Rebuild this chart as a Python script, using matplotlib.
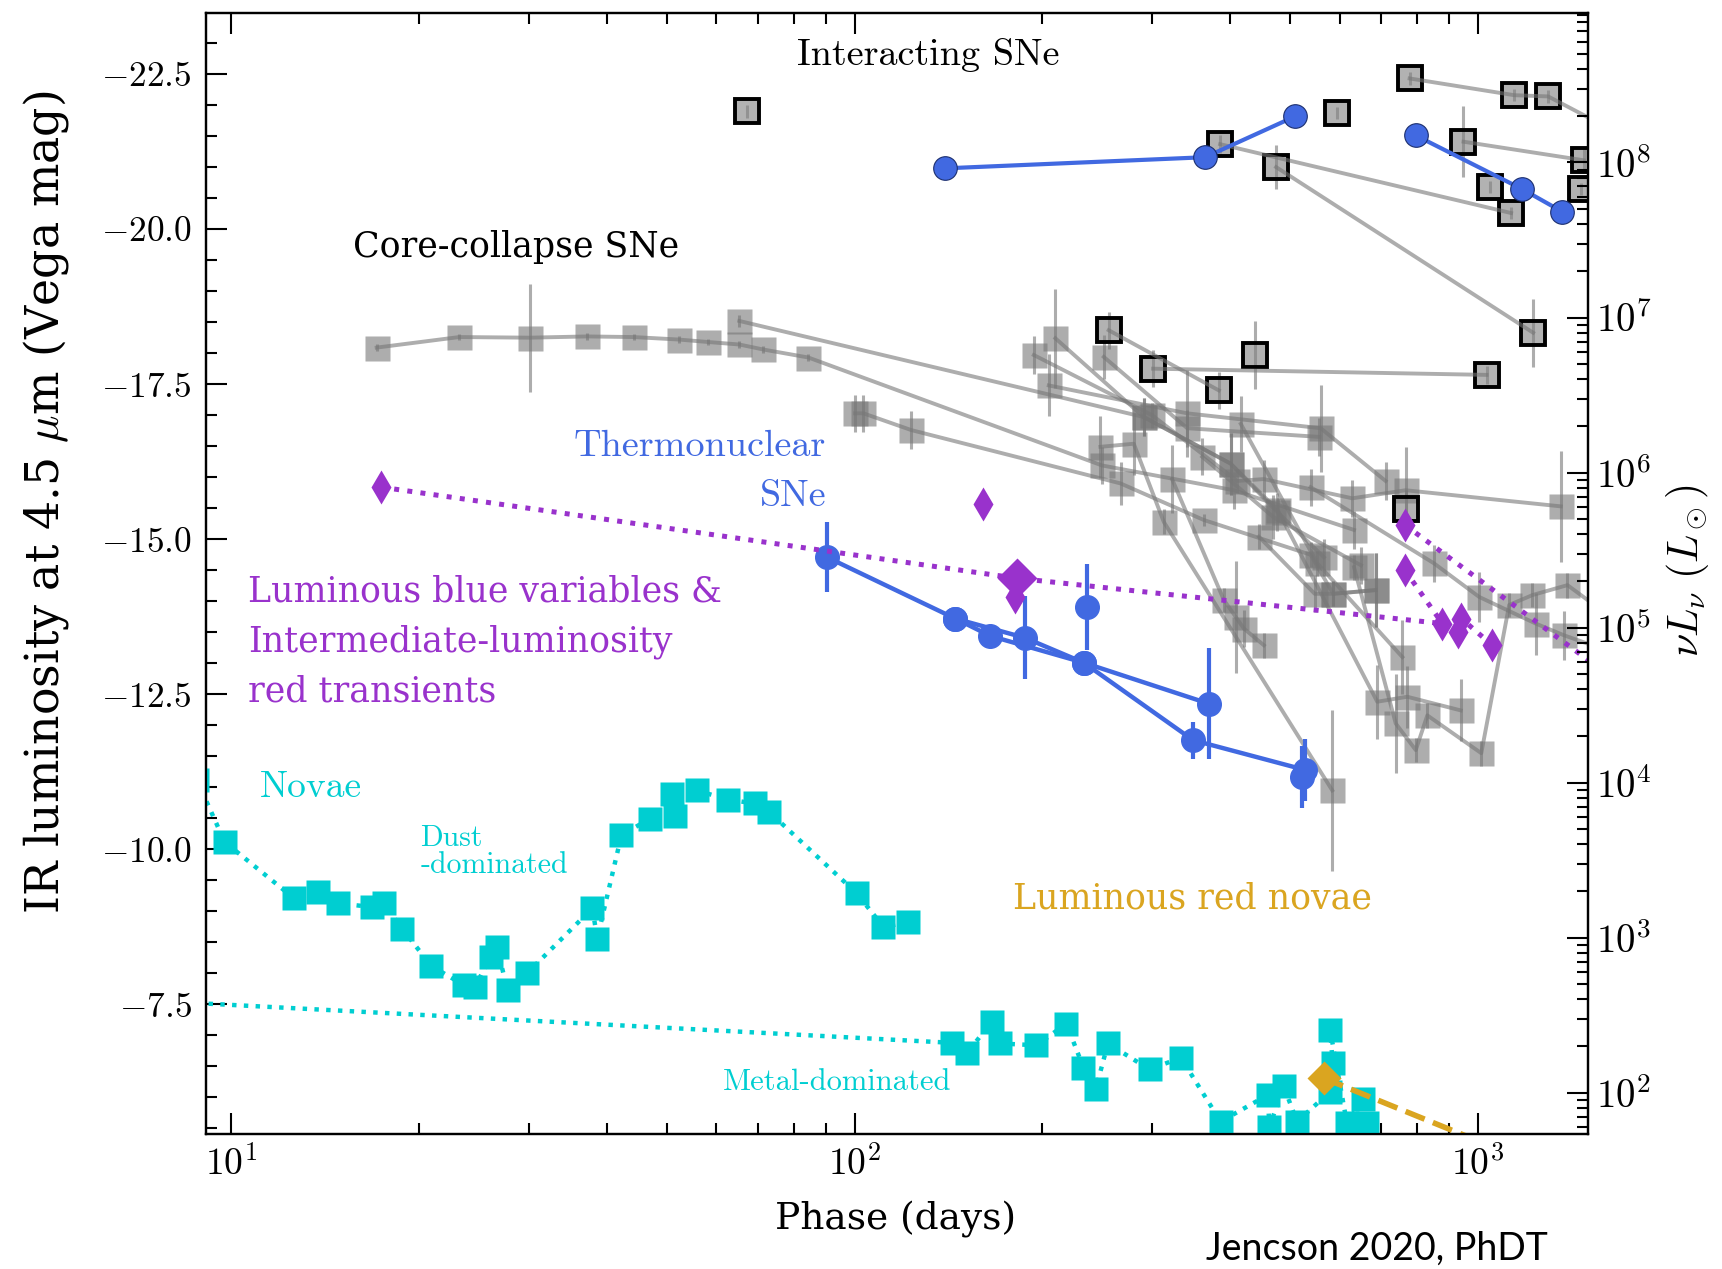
"""
plot.py - IR luminosity at 4.5 um vs phase for several transient classes
"""

import numpy as np
import matplotlib
matplotlib.use("Agg")
import matplotlib.pyplot as plt
from matplotlib.ticker import FixedLocator, FuncFormatter, NullFormatter, LogLocator

plt.rcParams.update({
    "font.family":        "serif",
    "font.serif":         ["cmr10"],
    "mathtext.fontset":   "cm",
    "axes.formatter.use_mathtext": True,
    "axes.linewidth":     1.6,
    "xtick.direction":    "in",
    "ytick.direction":    "in",
})

GREY    = "#777777"
BLUE    = "#4169E1"
PURPLE  = "#9932CC"
CYAN    = "#00CED1"
GOLD    = "#DAA520"
PALA    = "DejaVu Serif"

# ---------------- data (phase in days, Vega mag at 4.5 um, error) ----------------
# core-collapse SNe
cc_a = ([17.1, 23.2, 30.1, 37.2, 44.2, 52.2, 58.2, 65.3, 71.3, 84.3, 249.4, 406.0, 633.0],
        [-18.09, -18.26, -18.25, -18.27, -18.26, -18.22, -18.18, -18.14, -18.06, -17.93, -16.19, -15.79, -15.15],
        [0.05, 0.05, 0.87, 0.05, 0.05, 0.05, 0.05, 0.05, 0.05, 0.05, 0.3, 0.3, 0.3])
cc_b = ([65.3, 291.1, 401.1, 476.6, 566.4],
        [-18.52, -16.97, -16.22, -15.44, -14.71],
        [0.1, 0.3, 0.5, 0.3, 0.3])
cc_c = ([100.2, 103.3, 123.3, 267.1, 363.4, 539.2, 586.0, 685.6],
        [-17.03, -17.03, -16.76, -15.90, -15.31, -14.75, -14.12, -14.18],
        [0.3, 0.3, 0.3, 0.35, 0.1, 0.2, 0.2, 0.6])
cc_d = ([193.9, 300.2, 411.1, 453.7, 628.9, 766.0, 1359],
        [-17.97, -17.00, -15.94, -15.97, -15.66, -15.79, -15.53],
        [0.3, 0.2, 0.2, 0.3, 0.3, 0.7, 0.9])
cc_e = ([210.0, 291.1, 401.1, 477.5, 689.7, 770.7, 939.0],
        [-18.24, -16.97, -16.22, -15.47, -12.38, -12.46, -12.24],
        [0.8, 0.3, 0.5, 0.2, 0.6, 0.5, 0.5])
cc_f = ([204.9, 341.8, 559.6, 711.3],
        [-17.48, -17.03, -16.79, -15.94],
        [0.5, 0.7, 0.7, 0.3])
cc_g = ([251.1, 341.8, 556.9],
        [-17.94, -16.79, -16.65],
        [0.35, 0.3, 0.3])
cc_h = ([248.0, 280.5, 313.4, 584.1],
        [-16.49, -16.54, -15.28, -10.95],
        [0.5, 0.5, 0.2, 1.3])
cc_i = ([323.2, 391.3, 408.7, 421.3, 453.7],
        [-15.97, -14.02, -13.75, -13.56, -13.29],
        [0.55, 0.2, 0.9, 0.3, 0.2])
cc_j = ([633.0, 738.4, 795.2, 829.9, 1013, 1123, 1224, 1393, 1662],
        [-14.55, -12.03, -11.60, -12.16, -11.55, -13.94, -14.10, -14.26, -13.69],
        [0.2, 0.8, 0.2, 0.2, 0.2, 0.2, 0.2, 0.2, 0.2])
cc_k = ([539.2, 851.0, 1005, 1239, 1376, 1662],
        [-15.84, -14.61, -14.07, -13.64, -13.45, -13.16],
        [0.3, 0.3, 0.4, 0.5, 0.4, 0.2])
cc_l = ([416.6, 552.8, 756.8],
        [-16.86, -14.61, -13.10],
        [0.45, 0.2, 0.6])
cc_m = ([445.4, 547.4, 586.0, 685.6],
        [-15.04, -14.12, -14.12, -14.18],
        [0.2, 0.3, 0.2, 0.6])
cc_n = ([361.2, 469.5, 649.4],
        [-16.33, -15.36, -14.58],
        [0.3, 0.35, 0.3])
CC_TRACKS = [cc_a, cc_b, cc_c, cc_d, cc_e, cc_f, cc_g, cc_h, cc_i, cc_j, cc_k, cc_l, cc_m, cc_n]

# interacting SNe (black-edged squares)
int_a = ([386.0, 1131], [-21.37, -20.26], [0.15, 0.1])
int_b = ([474.7, 1227], [-21.00, -18.33], [0.36, 0.55])
int_c = ([777.4, 1144, 1297, 1730], [-22.43, -22.16, -22.14, -21.48], [0.1, 0.1, 0.1, 0.1])
int_d = ([948.6, 1480], [-21.41, -21.11], [0.57, 0.2])
int_e = ([255.7, 384.1], [-18.37, -17.40], [0.3, 0.3])
int_f = ([301.3, 1033], [-17.75, -17.65], [0.3, 0.15])
INT_TRACKS = [int_a, int_b, int_c, int_d, int_e, int_f]
int_single_days = [67.2, 593.6, 1044.5, 1463, 438.4, 766.0]
int_single_mag  = [-21.90, -21.87, -20.68, -20.65, -17.97, -15.49]
int_single_err  = [0.1, 0.1, 0.1, 0.1, 0.55, 0.3]

# interacting thermonuclear (blue circles, top)
iacsm_a_days = [139.5, 365.3, 509.6]
iacsm_a_mag  = [-20.98, -21.16, -21.82]
iacsm_b_days = [795.4, 1176, 1367]
iacsm_b_mag  = [-21.51, -20.65, -20.28]

# thermonuclear SNe
ia_a_days = [90.3, 145.1, 187.7, 233.1, 369.8]
ia_a_mag  = [-14.71, -13.72, -13.41, -13.01, -12.35]
ia_a_err  = [0.56, 0.1, 0.67, 0.1, 0.9]
ia_b_days = [145.1, 165.2, 233.1, 349.3, 528.2]
ia_b_mag  = [-13.72, -13.44, -13.01, -11.76, -11.28]
ia_b_err  = [0.1, 0.1, 0.1, 0.3, 0.5]
ia_single_days = [236.4, 522.2]
ia_single_mag  = [-13.91, -11.17]
ia_single_err  = [0.69, 0.5]

# LBVs & ILRTs
lbv_a_days = [17.38, 182.4, 877.3]
lbv_a_mag  = [-15.84, -14.37, -13.64]
lbv_b_days = [764, 1662]
lbv_b_mag  = [-15.23, -12.73]
lbv_c_days = [764, 877.3, 931.1, 941.3, 1055]
lbv_c_mag  = [-14.50, -13.64, -13.51, -13.72, -13.29]
lbv_pts_days = [17.38, 160.4, 180.7, 764, 764, 877.3, 931.1, 941.3, 1055]
lbv_pts_mag  = [-15.84, -15.57, -14.07, -15.23, -14.50, -13.64, -13.51, -13.72, -13.29]
lbv_big_days = [182.4]
lbv_big_mag  = [-14.37]

# luminous red novae
lrn_days = [566, 908.9, 1000]
lrn_mag  = [-6.31, -5.47, -5.30]

# novae
dust_days = [8.8, 9.75, 12.60, 13.78, 14.80, 16.79, 17.56, 18.79, 20.92, 23.60, 24.59, 26.05,
             26.66, 27.73, 29.79, 37.95, 38.63, 42.25, 46.88, 51.0, 51.45, 55.79, 62.68, 69.17,
             72.99, 100.8, 111.2, 121.7]
dust_mag  = [-11.12, -10.12, -9.21, -9.31, -9.13, -9.07, -9.13, -8.72, -8.12, -7.81, -7.78, -8.27,
             -8.43, -7.73, -8.00, -9.05, -8.56, -10.23, -10.49, -10.90, -10.53, -10.95, -10.80, -10.74,
             -10.60, -9.29, -8.75, -8.82]
metal_days = [5.0, 143.2, 151.6, 166.0, 170.8, 195.8, 218.7, 232.9, 243.8, 255.0, 297.3, 333.8,
              386.7, 460.4, 462.9, 488.0, 512.8, 579.4, 585.0, 579.4, 616.8, 653.5, 664.4]
metal_mag  = [-7.65, -6.88, -6.72, -7.22, -6.87, -6.84, -7.19, -6.48, -6.14, -6.87, -6.45, -6.64,
              -5.61, -6.04, -5.52, -6.18, -5.61, -6.09, -6.56, -7.09, -5.58, -5.98, -5.58]

XLIM = (9.1, 1500)
YLIM = (-5.41, -23.48)


def mag_to_lsun(m):
    return 10 ** (-0.43 - 0.4 * np.asarray(m))


def power_label(v, pos):
    return f"$10^{{{int(round(np.log10(v)))}}}$"


fig = plt.figure(figsize=(17.22, 12.69), dpi=100)
ax = fig.add_axes([0.1196, 0.1064, 0.8023, 0.8831])

# core-collapse
for days, mag, err in CC_TRACKS:
    ax.errorbar(days, mag, yerr=err, fmt="s-", color=GREY, alpha=0.6, ms=18, mec="none",
                lw=2.8, elinewidth=2.2, zorder=2)

# interacting
for days, mag, err in INT_TRACKS:
    ax.errorbar(days, mag, yerr=err, fmt="-", color=GREY, alpha=0.6, lw=2.8,
                elinewidth=2.2, zorder=3)
    ax.plot(days, mag, "s", ms=17, mfc=(0.5, 0.5, 0.5, 0.6), mec="k", mew=2.8, zorder=3)
ax.errorbar(int_single_days, int_single_mag, yerr=int_single_err, fmt="none", ecolor=GREY,
            alpha=0.6, elinewidth=2.2, zorder=3)
ax.plot(int_single_days, int_single_mag, "s", ms=17, mfc=(0.5, 0.5, 0.5, 0.6), mec="k",
        mew=2.8, zorder=3)

for days, mag in [(iacsm_a_days, iacsm_a_mag), (iacsm_b_days, iacsm_b_mag)]:
    ax.plot(days, mag, "o-", color=BLUE, ms=17, mec="#1c2f6e", mew=0.8, lw=3, zorder=4)

# thermonuclear
for days, mag, err in [(ia_a_days, ia_a_mag, ia_a_err), (ia_b_days, ia_b_mag, ia_b_err)]:
    ax.errorbar(days, mag, yerr=err, fmt="o-", color=BLUE, ms=17, lw=3.2, elinewidth=3, zorder=4)
ax.errorbar(ia_single_days, ia_single_mag, yerr=ia_single_err, fmt="o", color=BLUE, ms=17,
            elinewidth=3, zorder=4)

# LBVs / ILRTs
for days, mag in [(lbv_a_days, lbv_a_mag), (lbv_b_days, lbv_b_mag), (lbv_c_days, lbv_c_mag)]:
    ax.plot(days, mag, ":", color=PURPLE, lw=3.6, zorder=5)
ax.plot(lbv_pts_days, lbv_pts_mag, "d", color=PURPLE, ms=17, mec="none", zorder=5)
ax.plot(lbv_big_days, lbv_big_mag, "D", color=PURPLE, ms=20, mec="none", zorder=5)

# novae
ax.plot(dust_days, dust_mag, "s:", color=CYAN, ms=17.5, mec="none", lw=3.2, zorder=3)
ax.plot(metal_days, metal_mag, "s:", color=CYAN, ms=17.5, mec="none", lw=3.2, zorder=3)

# luminous red novae
ax.plot(lrn_days, lrn_mag, "--", color=GOLD, lw=4, zorder=5)
ax.plot(lrn_days[:1], lrn_mag[:1], "D", color=GOLD, ms=17, mec="none", zorder=6)

# axes
ax.set_xscale("log")
ax.set_xlim(*XLIM)
ax.set_ylim(*YLIM)
ax.xaxis.set_major_locator(FixedLocator([10, 100, 1000]))
ax.xaxis.set_major_formatter(FuncFormatter(power_label))
ax.xaxis.set_minor_locator(FixedLocator([k * 10.0 ** n for n in range(0, 4) for k in range(2, 10)]))
ax.xaxis.set_minor_formatter(NullFormatter())
ax.yaxis.set_major_locator(FixedLocator([-22.5, -20, -17.5, -15, -12.5, -10, -7.5]))
ax.yaxis.set_major_formatter(FuncFormatter(lambda v, p: f"${v:.1f}$"))
ax.yaxis.set_minor_locator(FixedLocator(np.arange(-23.5, -5.0, 0.5)))
ax.tick_params(which="both", top=True, right=False, direction="in", width=1.5)
ax.tick_params(which="major", length=15)
ax.tick_params(which="minor", length=8)
ax.tick_params(axis="x", which="major", labelsize=27, pad=8)
ax.tick_params(axis="y", which="major", labelsize=25.5, pad=10)

ax2 = ax.twinx()
ax2.set_yscale("log")
ax2.set_ylim(mag_to_lsun(YLIM[0]), mag_to_lsun(YLIM[1]))
ax2.yaxis.set_major_locator(FixedLocator([10.0 ** n for n in range(2, 9)]))
ax2.yaxis.set_major_formatter(FuncFormatter(power_label))
ax2.yaxis.set_minor_locator(LogLocator(base=10, subs=np.arange(2, 10), numticks=20))
ax2.yaxis.set_minor_formatter(NullFormatter())
ax2.tick_params(which="both", direction="in", width=1.5)
ax2.tick_params(which="major", length=15, labelsize=28, pad=6)
ax2.tick_params(which="minor", length=8)

# labels
ax.text(131.3, -22.80, "Interacting SNe", fontsize=27.5, ha="center", va="center")
ax.text(28.6, -19.71, "Core-collapse SNe", family=PALA, fontsize=25, ha="center", va="center")
ax.text(90.0, -16.49, "Thermonuclear", color=BLUE, fontsize=27.5, ha="right", va="center")
ax.text(90.0, -15.69, "SNe", color=BLUE, fontsize=27.5, ha="right", va="center")
ax.text(10.63, -14.16, "Luminous blue variables &", color=PURPLE, family=PALA, fontsize=25,
        ha="left", va="center")
ax.text(10.63, -13.35, "Intermediate-luminosity", color=PURPLE, family=PALA, fontsize=25,
        ha="left", va="center")
ax.text(10.63, -12.54, "red transients", color=PURPLE, family=PALA, fontsize=25,
        ha="left", va="center")
ax.text(11.11, -11.0, "Novae", color=CYAN, fontsize=27, ha="left", va="center")
ax.text(20.1, -10.17, "Dust", color=CYAN, fontsize=21.5, ha="left", va="center")
ax.text(20.1, -9.74, "-dominated", color=CYAN, fontsize=21.5, ha="left", va="center")
ax.text(93.7, -6.25, "Metal-dominated", color=CYAN, fontsize=22, ha="center", va="center")
ax.text(347.8, -9.21, "Luminous red novae", color=GOLD, family=PALA, fontsize=25,
        ha="center", va="center")

fig.text(0.5198, 0.0394, "Phase (days)", family=PALA, fontsize=27, ha="center", va="center")
fig.text(0.0267, 0.6045, r"IR luminosity at 4.5 $\mu$m (Vega mag)", family=PALA, fontsize=33,
         rotation=90, ha="center", va="center")
fig.text(0.980, 0.550, r"$\nu L_\nu\ (L_\odot)$", fontsize=30, rotation=90, ha="center", va="center")
fig.text(0.899, 0.0158, "Jencson 2020, PhDT", family="Lato", fontsize=27, ha="right", va="center")

fig.savefig("out.png", dpi=100)
